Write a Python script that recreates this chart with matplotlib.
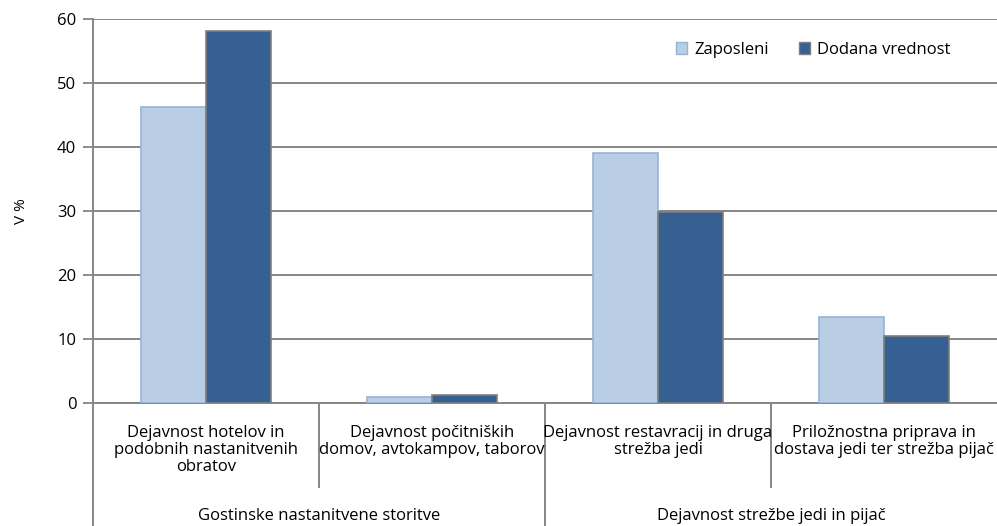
import matplotlib
matplotlib.use("Agg")
import matplotlib.pyplot as plt
import matplotlib.transforms as mtransforms
from matplotlib.patches import Patch
import numpy as np

# ---------------------------------------------------------------------------
# Data
# ---------------------------------------------------------------------------
categories = [
    "Dejavnost hotelov in\npodobnih nastanitvenih\nobratov",
    "Dejavnost počitniških\ndomov, avtokampov, taborov",
    "Dejavnost restavracij in druga\nstrežba jedi",
    "Priložnostna priprava in\ndostava jedi ter strežba pijač",
]
groups = ["Gostinske nastanitvene storitve", "Dejavnost strežbe jedi in pijač"]
group_spans = [(0, 1), (2, 3)]
zaposleni = [46.2, 0.9, 39.1, 13.5]
dodana_vrednost = [58.1, 1.2, 29.9, 10.5]
y_ticks = [0, 10, 20, 30, 40, 50, 60]

LIGHT = "#B9CDE5"
LIGHT_EDGE = "#95B3D7"
DARK = "#366092"
DARK_EDGE = "#7F7F7F"
GRID = "#868686"
TEXT = "#000000"

plt.rcParams["font.family"] = ["Open Sans", "DejaVu Sans"]

fig = plt.figure(figsize=(9.97, 5.26), dpi=100)
ax = fig.add_axes([0.0933, 0.2338, 0.9067, 0.7301])

x = np.arange(len(categories))
w = 0.288
ax.bar(x - w / 2, zaposleni, width=w, color=LIGHT, edgecolor=LIGHT_EDGE,
       linewidth=1.2, zorder=3, label="Zaposleni")
ax.bar(x + w / 2, dodana_vrednost, width=w, color=DARK, edgecolor=DARK_EDGE,
       linewidth=1.2, zorder=3, label="Dodana vrednost")

ax.set_xlim(-0.5, len(categories) - 0.5)
ax.set_ylim(0, 60)
ax.set_yticks(y_ticks)
ax.set_yticklabels([str(t) for t in y_ticks], fontsize=12, color=TEXT)
ax.tick_params(axis="y", length=7, width=1.3, color=GRID, direction="out", pad=5)
ax.set_xticks([])
ax.grid(axis="y", color=GRID, linewidth=1.4, zorder=0)
ax.set_axisbelow(True)

for side in ["top", "right"]:
    ax.spines[side].set_visible(False)
ax.spines["left"].set_color(GRID)
ax.spines["left"].set_linewidth(1.4)
ax.spines["bottom"].set_color(GRID)
ax.spines["bottom"].set_linewidth(1.4)

ax.set_ylabel("V %", fontsize=11, color=TEXT, labelpad=20)

# Two-level category axis
trans = mtransforms.blended_transform_factory(ax.transData, ax.transAxes)
for b in [0.5, 2.5]:
    ax.plot([b, b], [0, -0.219], transform=trans, color=GRID, lw=1.4, clip_on=False)
ax.plot([1.5, 1.5], [0, -0.33], transform=trans, color=GRID, lw=1.4, clip_on=False)
ax.plot([-0.5, -0.5], [0, -0.33], transform=trans, color=GRID, lw=1.4, clip_on=False)

for xi, label in zip(x, categories):
    ax.text(xi, -0.056, label, transform=trans, ha="center", va="top",
            fontsize=12, color=TEXT, linespacing=1.12)

for (a, b), label in zip(group_spans, groups):
    ax.text((a + b) / 2, -0.295, label, transform=trans, ha="center",
            va="center", fontsize=12, color=TEXT)

handles = [
    Patch(facecolor=LIGHT, edgecolor=LIGHT_EDGE, label="Zaposleni"),
    Patch(facecolor=DARK, edgecolor=DARK_EDGE, label="Dodana vrednost"),
]
ax.legend(handles=handles, loc="upper right", bbox_to_anchor=(0.965, 0.98),
          ncol=2, frameon=False, fontsize=12, handlelength=0.7,
          handleheight=0.7, handletextpad=0.4, columnspacing=1.8)

fig.savefig("out.png", dpi=100, facecolor="white")
